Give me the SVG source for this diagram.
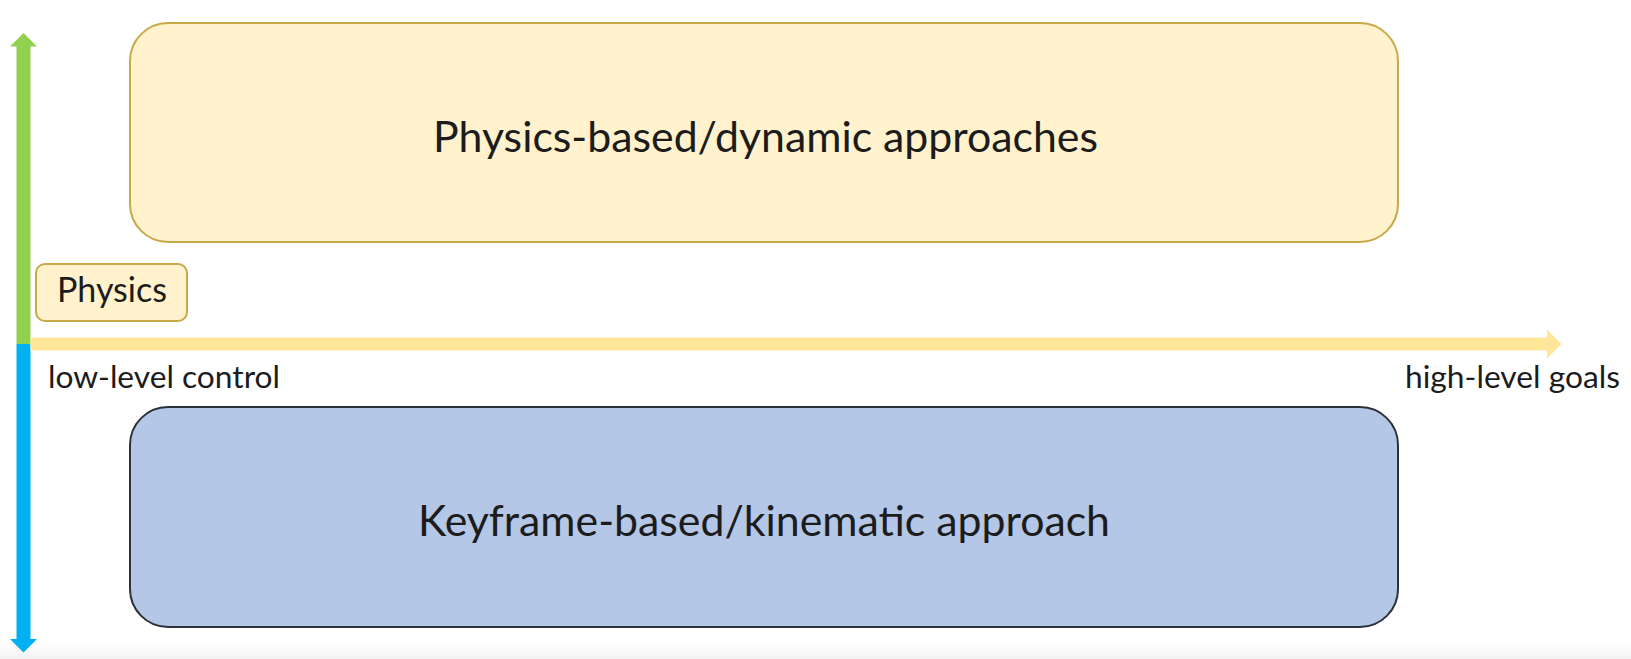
<svg xmlns="http://www.w3.org/2000/svg" width="1631" height="659" viewBox="0 0 1631 659">
  <defs>
    <linearGradient id="footFade" x1="0" y1="0" x2="0" y2="1">
      <stop offset="0" stop-color="#ffffff" stop-opacity="0"/>
      <stop offset="1" stop-color="#f2f2f2" stop-opacity="1"/>
    </linearGradient>
  </defs>
  <style>
    .label { font-family: "Lato", "Open Sans", "Liberation Sans", sans-serif; fill: #1c1c1c; }
    .big { font-size: 42px; }
    .small { font-size: 31px; }
    .warm { fill: #fff2cc; stroke: #c9a84a; stroke-width: 2; }
    .cool { fill: #b4c7e7; stroke: #2c323a; stroke-width: 2; }
  </style>

  <rect x="0" y="0" width="1631" height="659" fill="#ffffff"/>
  <rect x="0" y="632" width="1631" height="27" fill="url(#footFade)"/>

  <!-- axes: vertical (physics up / kinematics down) and horizontal (control level) -->
  <g id="connectors">
    <polygon id="axis-up" fill="#92d050" points="23.5,33 37,46.5 30.5,46.5 30.5,344 16.5,344 16.5,46.5 10,46.5"/>
    <polygon id="axis-down" fill="#00b0f0" points="16.5,344 30.5,344 30.5,639 37,639 23.5,652.5 10,639 16.5,639"/>
    <polygon id="axis-right" fill="#ffe699" points="30.5,337.5 1547,337.5 1547,329.5 1561.5,344 1547,358.5 1547,350.5 30.5,350.5"/>
  </g>

  <g id="axis-labels">
    <text class="label small" x="48" y="388" textLength="232" lengthAdjust="spacingAndGlyphs">low-level control</text>
    <text class="label small" x="1405" y="388" textLength="215" lengthAdjust="spacingAndGlyphs">high-level goals</text>
  </g>

  <g id="physics-approaches">
    <rect class="warm" x="130" y="23" width="1268" height="219" rx="38" ry="38"/>
    <text class="label big" x="433" y="152" textLength="665" lengthAdjust="spacingAndGlyphs">Physics-based/dynamic approaches</text>
  </g>

  <g id="physics-tag">
    <rect class="warm" x="36" y="264" width="151" height="57" rx="9" ry="9"/>
    <text class="label" font-size="34" x="57" y="302" textLength="110" lengthAdjust="spacingAndGlyphs">Physics</text>
  </g>

  <g id="kinematic-approach">
    <rect class="cool" x="130" y="407" width="1268" height="220" rx="38" ry="38"/>
    <text class="label big" x="418" y="536" textLength="692" lengthAdjust="spacingAndGlyphs">Keyframe-based/kinematic approach</text>
  </g>
</svg>
